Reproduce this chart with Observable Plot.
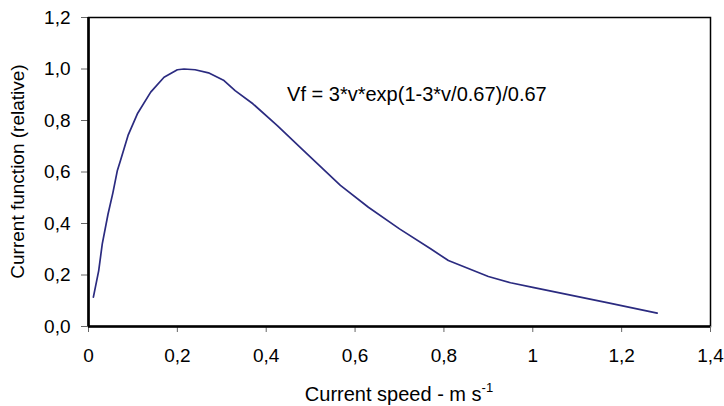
<!DOCTYPE html>
<html>
<head>
<meta charset="utf-8">
<script src="https://cdn.jsdelivr.net/npm/d3@7"></script>
<script src="https://cdn.jsdelivr.net/npm/@observablehq/plot@0.6"></script>
<style>
  html, body { margin: 0; padding: 0; background: white; }
</style>
</head>
<body>
<div id="chart"></div>
<script>
// Current speed (m/s)
const speed = [0.011, 0.023, 0.031, 0.044, 0.055, 0.065, 0.072, 0.089, 0.11, 0.14, 0.17, 0.2, 0.215, 0.24, 0.27, 0.305, 0.33, 0.37, 0.425, 0.48, 0.567, 0.63, 0.70, 0.77, 0.81, 0.90, 0.95, 1.0, 1.17, 1.28];
// Current function (relative)
const currentFunction = [0.114, 0.217, 0.321, 0.437, 0.52, 0.606, 0.645, 0.742, 0.826, 0.91, 0.968, 0.997, 1.0, 0.997, 0.985, 0.955, 0.916, 0.865, 0.78, 0.69, 0.548, 0.463, 0.379, 0.302, 0.256, 0.194, 0.17, 0.152, 0.092, 0.052];

const xTicks = [0, 0.2, 0.4, 0.6, 0.8, 1, 1.2, 1.4];
const xTickLabels = ["0", "0,2", "0,4", "0,6", "0,8", "1", "1,2", "1,4"];
const yTicks = [0, 0.2, 0.4, 0.6, 0.8, 1.0, 1.2];
const yTickLabels = ["0,0", "0,2", "0,4", "0,6", "0,8", "1,0", "1,2"];

const annotationText = ["Vf = 3*v*exp(1-3*v/0.67)/0.67"];
const annotationX = [0.447];
const annotationY = [0.9];

const xTitle = "Current speed - m s";
const xTitleSup = "-1";
const yTitle = "Current function (relative)";

const data = speed.map((v, i) => ({v, f: currentFunction[i]}));
const notes = annotationText.map((t, i) => ({t, x: annotationX[i], y: annotationY[i]}));

const W = 724, H = 406;
const mL = 88, mR = 14, mT = 17, mB = 80;
const FONT = "'Liberation Sans', Arial, sans-serif";
const FS = 19;

const chart = Plot.plot({
  width: W, height: H,
  marginLeft: mL, marginRight: mR, marginTop: mT, marginBottom: mB,
  style: {fontFamily: FONT, fontSize: FS + "px", background: "white", color: "black"},
  x: {domain: [0, 1.4]},
  y: {domain: [0, 1.2]},
  marks: [
    Plot.frame({stroke: "black", strokeWidth: 1.5}),
    Plot.axisX({ticks: xTicks, tickSize: 6, tickPadding: 16, stroke: "#666", fill: "black", fontSize: FS,
      tickFormat: d => xTickLabels[xTicks.indexOf(d)], label: null}),
    Plot.axisY({ticks: yTicks, tickSize: 7, tickPadding: 11, stroke: "#666", fill: "black", fontSize: FS,
      tickFormat: d => yTickLabels[yTicks.findIndex(t => Math.abs(t - d) < 1e-9)], label: null}),
    Plot.ruleX([0], {stroke: "black", strokeWidth: 2.6}),
    Plot.ruleY([0], {stroke: "black", strokeWidth: 2.6}),
    Plot.line(data, {x: "v", y: "f", stroke: "#2b2b80", strokeWidth: 1.7}),
    Plot.text(notes, {x: "x", y: "y", text: "t", textAnchor: "start", fontSize: 20, fill: "black"})
  ]
});

const svg = d3.select(chart);
const xt = svg.append("text")
  .attr("x", mL + (W - mL - mR) / 2)
  .attr("y", 401)
  .attr("text-anchor", "middle")
  .attr("font-size", 20)
  .attr("font-family", FONT)
  .attr("fill", "black");
xt.append("tspan").text(xTitle);
xt.append("tspan").attr("dy", -9).attr("font-size", 13).text(xTitleSup);

svg.append("text")
  .attr("transform", `translate(17,${mT + (H - mT - mB) / 2}) rotate(-90)`)
  .attr("text-anchor", "middle")
  .attr("dy", "0.35em")
  .attr("font-size", FS)
  .attr("font-family", FONT)
  .attr("fill", "black")
  .text(yTitle);

document.getElementById("chart").appendChild(chart);
</script>
</body>
</html>
